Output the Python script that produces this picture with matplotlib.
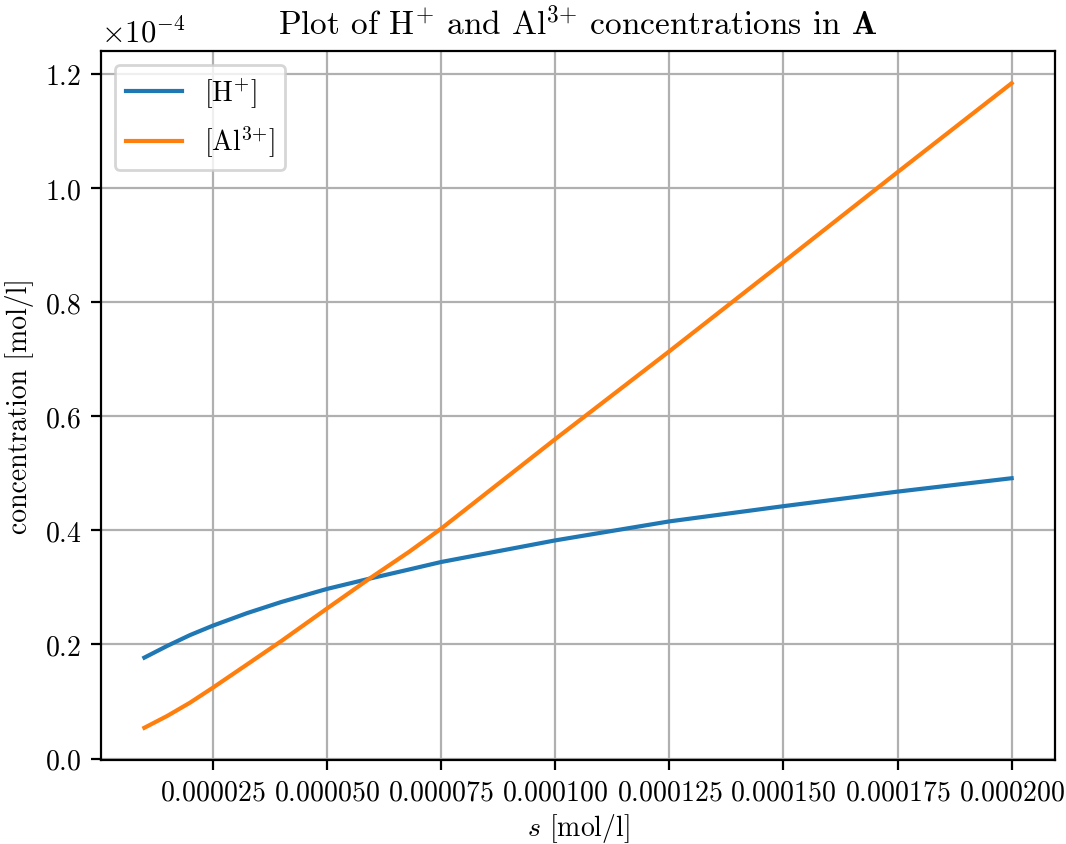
import numpy as np
import matplotlib
matplotlib.use("Agg")
from matplotlib import pyplot as plt

plt.rcParams['font.family'] = 'serif'
plt.rcParams['font.serif'] = ['cmr10']
plt.rcParams['mathtext.fontset'] = 'cm'
plt.rcParams['axes.formatter.use_mathtext'] = True

# s [mol/l] and concentrations (x1e-4 mol/l)
s = np.array([1.0, 1.5, 2.0, 2.5, 3.25, 4.0, 5.0, 5.93, 6.8, 7.5,
              10.0, 12.5, 15.0, 17.5, 20.0]) * 1e-5
h_conc = np.array([0.177, 0.1975, 0.2165, 0.233, 0.255, 0.2745, 0.2974, 0.3154, 0.3315, 0.3446,
                   0.3825, 0.4158, 0.4425, 0.468, 0.4915]) * 1e-4
al_conc = np.array([0.054, 0.0747, 0.098, 0.1242, 0.165, 0.206, 0.263, 0.3154, 0.3625, 0.403,
                    0.560, 0.714, 0.8706, 1.028, 1.184]) * 1e-4

fig = plt.figure(figsize=(1066 / 200, 845 / 200), dpi=200)
ax = fig.add_axes([101 / 1066, 84 / 845, 954 / 1066, 709 / 845])
ax.plot(s, h_conc, label=r'[$\mathrm{H}^{+}$]')
ax.plot(s, al_conc, label=r'[$\mathrm{Al}^{3{+}}$]')
ax.ticklabel_format(axis='y', style='sci', scilimits=(0, 0))
ax.yaxis.get_offset_text().set_fontsize(11)
ax.set_xlabel(r'$s$ [mol/l]', labelpad=2)
ax.set_ylabel('concentration [mol/l]')
ax.set_title(r'Plot of $\mathrm{H}^{+}$ and $\mathrm{Al}^{3{+}}$ concentrations in $\mathbf{A}$')
ax.grid(True)
ax.legend(loc='upper left')
fig.savefig('out.png', dpi=200)
